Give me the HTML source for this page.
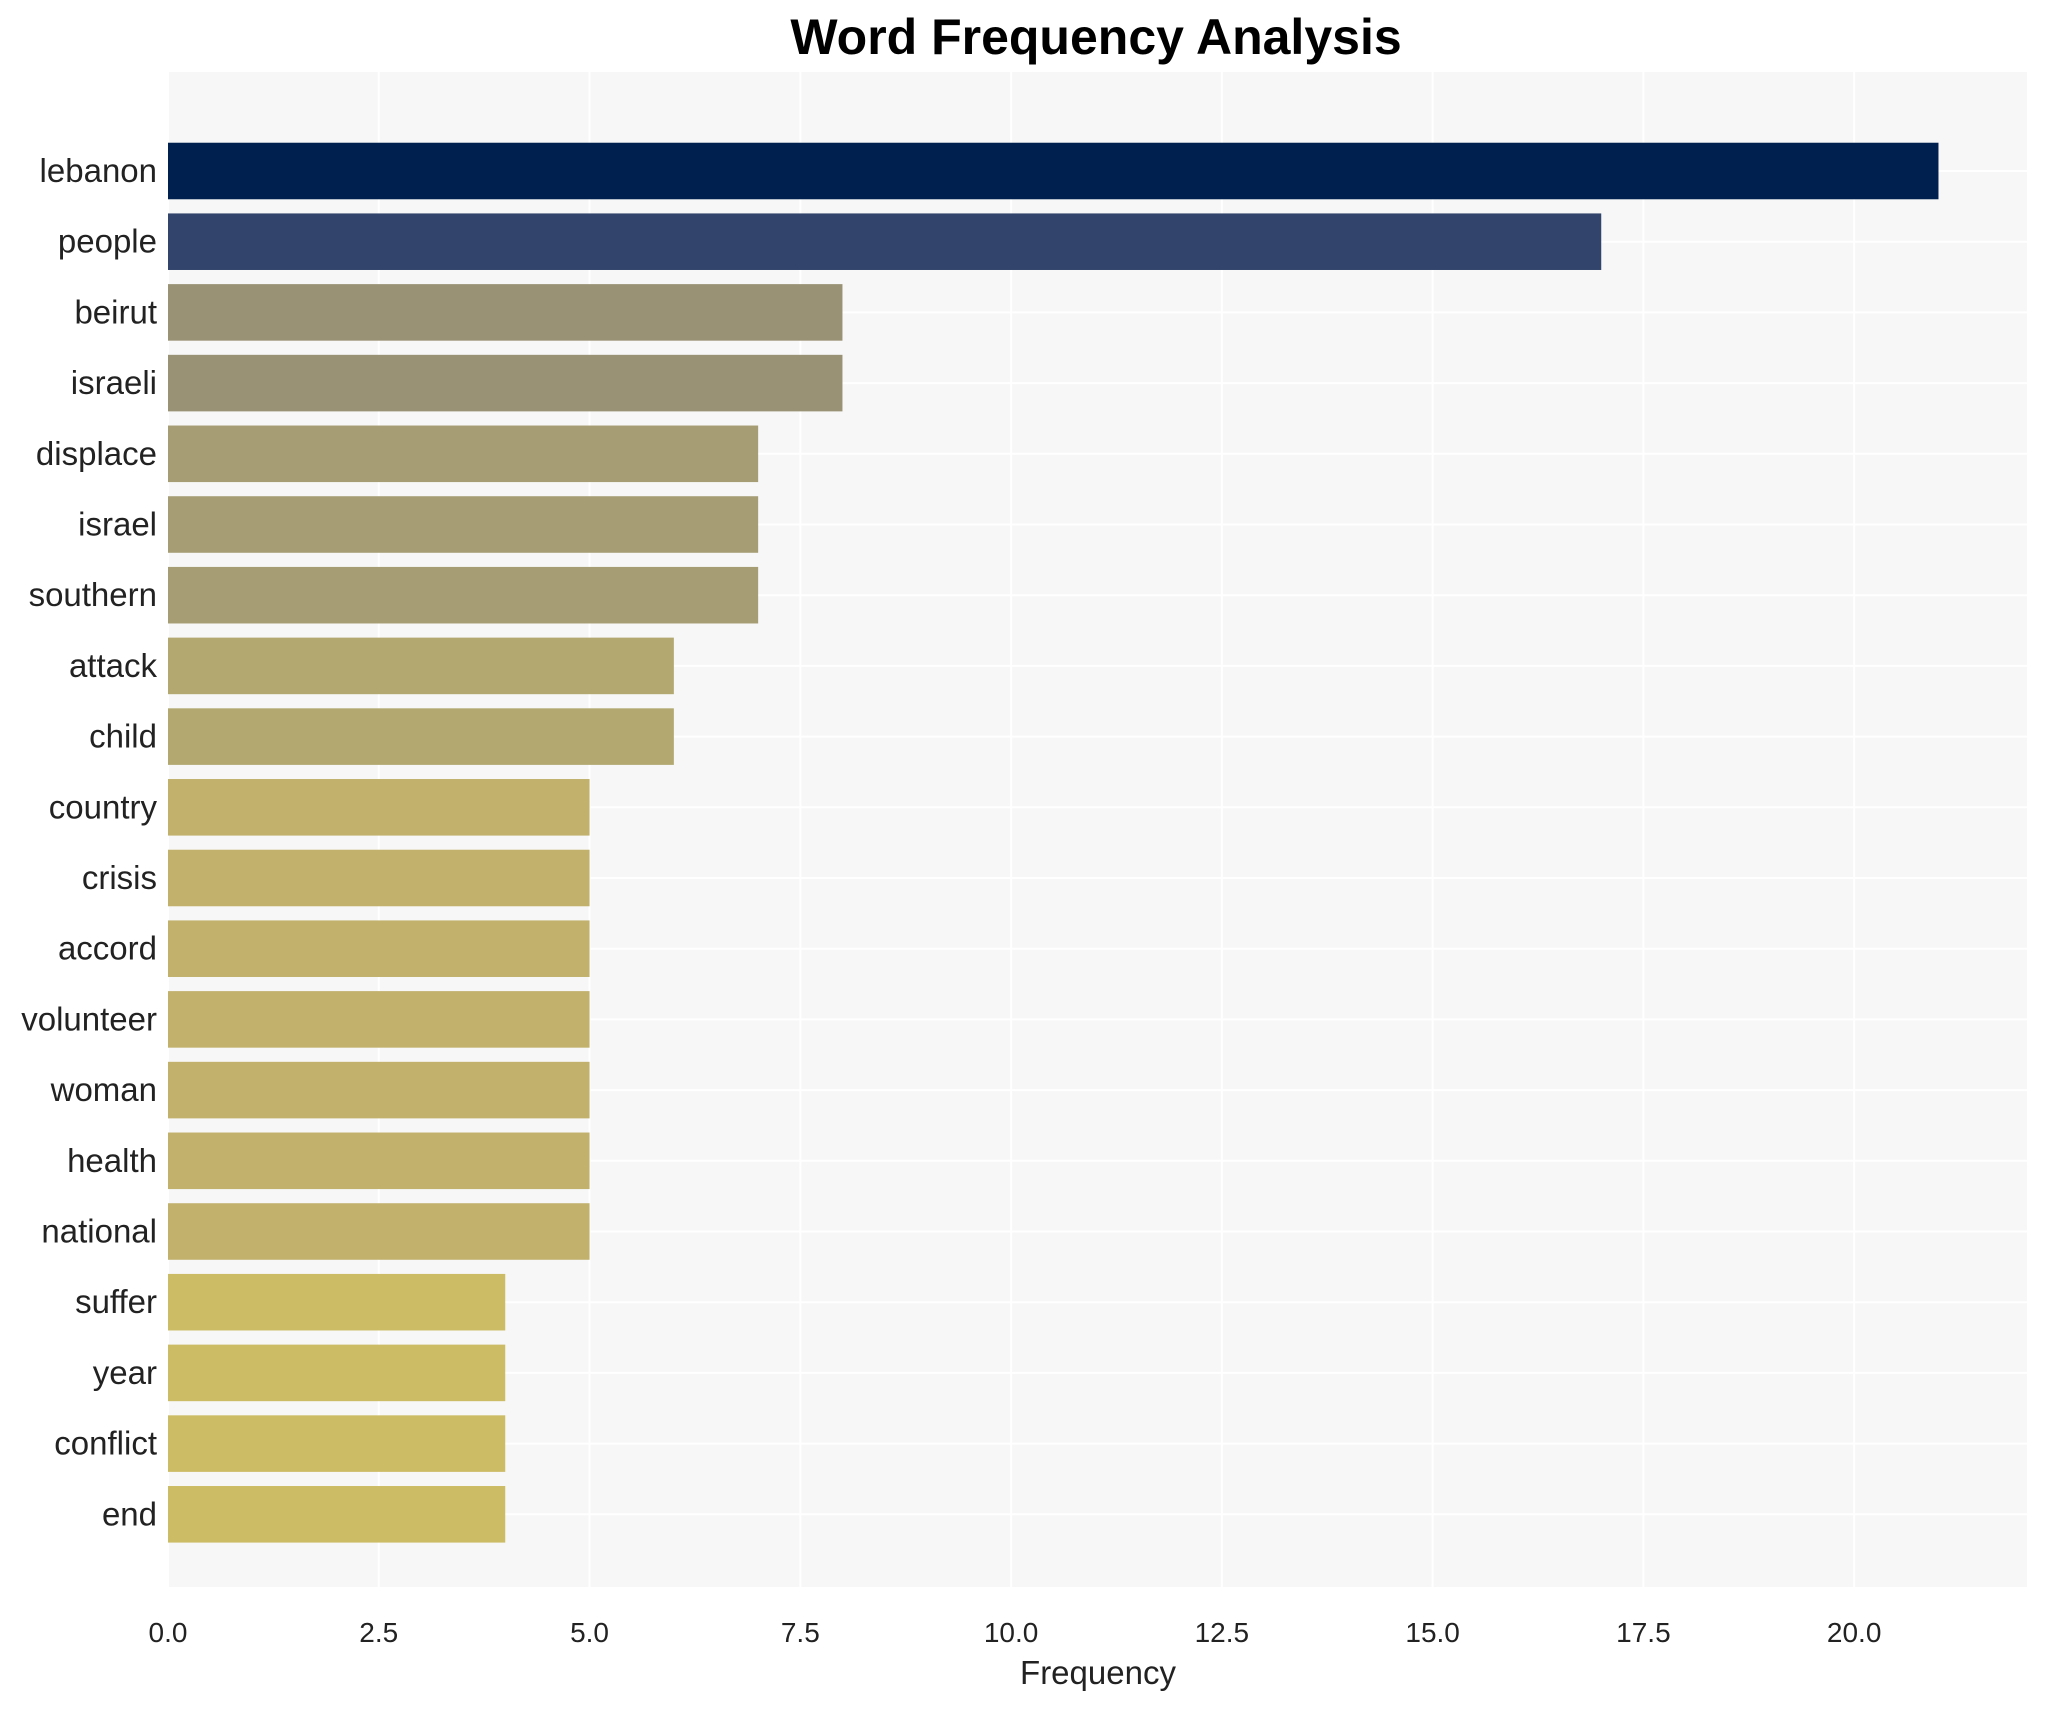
<!DOCTYPE html>
<html><head><meta charset="utf-8"><style>
body{margin:0;background:#fff;}
svg{display:block;font-family:"Liberation Sans",Arial,sans-serif;}
</style></head><body>
<svg id="chart" width="2046" height="1710" viewBox="0 0 2046 1710">
<rect x="0" y="0" width="2046" height="1710" fill="#fff"/>
<text x="1096" y="54" text-anchor="middle" font-size="50" font-weight="bold" fill="#000">Word Frequency Analysis</text>
<rect x="168" y="72" width="1859" height="1515" fill="#f7f7f7"/>
<g id="grid"></g><g id="bars"></g><g id="ylabels"></g><g id="xticks"></g>
<text x="1098" y="1684" text-anchor="middle" font-size="33" fill="#222">Frequency</text>
</svg>
<script>
const categories=["lebanon","people","beirut","israeli","displace","israel","southern","attack","child","country","crisis","accord","volunteer","woman","health","national","suffer","year","conflict","end"];
const values=[21,17,8,8,7,7,7,6,6,5,5,5,5,5,5,5,4,4,4,4];
const colors=["#00214f","#33446c","#9a9275","#9a9275","#a69d74","#a69d74","#a69d74","#b2a870","#b2a870","#c1b16d","#c1b16d","#c1b16d","#c1b16d","#c1b16d","#c1b16d","#c1b16d","#cdbc66","#cdbc66","#cdbc66","#cdbc66"];
const xTicks=[0,2.5,5,7.5,10,12.5,15,17.5,20];
const xTickLabels=["0.0","2.5","5.0","7.5","10.0","12.5","15.0","17.5","20.0"];
const NS="http://www.w3.org/2000/svg";
const X0=168,X1=2027,XMAX=22.05;
const x=v=>X0+v/XMAX*(X1-X0);
const Y0=171,STEP=70.7;
const y=i=>Y0+i*STEP;
const BH=STEP*0.8;
function mk(tag,attrs,parent){const e=document.createElementNS(NS,tag);for(const k in attrs)e.setAttribute(k,attrs[k]);document.getElementById(parent).appendChild(e);return e;}
xTicks.forEach((t,i)=>{
  const g=mk('line',{x1:x(t),x2:x(t),y1:72,y2:1587,stroke:'#fff','stroke-width':2},'grid');
  
  
  const l=mk('text',{x:x(t),y:1642,'text-anchor':'middle','font-size':28,fill:'#222'},'xticks');
  l.textContent=xTickLabels[i];
  
  
});
categories.forEach((c,i)=>{
  const g=mk('line',{x1:X0,x2:X1,y1:y(i),y2:y(i),stroke:'#fff','stroke-width':2},'grid');
  
  
  const b=mk('rect',{x:X0,y:y(i)-BH/2,width:x(values[i])-X0,height:BH,fill:colors[i]},'bars');
  
  
  const t=mk('text',{x:157,y:y(i)+11,'text-anchor':'end','font-size':33,fill:'#222'},'ylabels');
  t.textContent=c;
  
  
});
</script>
</body></html>
